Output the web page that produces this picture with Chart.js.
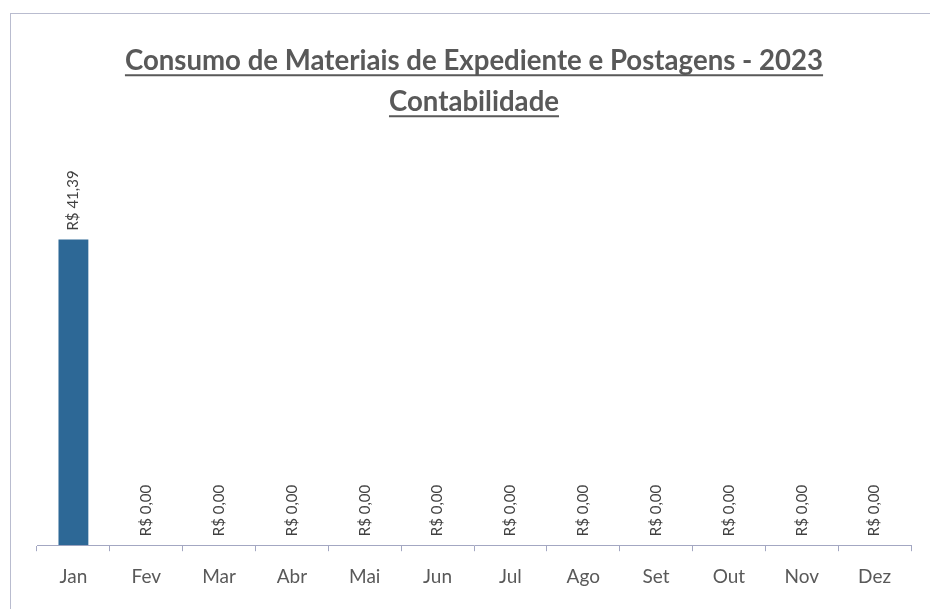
<!DOCTYPE html>
<html>
<head>
<meta charset="utf-8">
<script src="https://cdn.jsdelivr.net/npm/chart.js@4.4.0/dist/chart.umd.min.js"></script>
<style>
  html, body { margin: 0; padding: 0; background: #ffffff; overflow: hidden; width: 930px; height: 609px; }
  #frame { position: absolute; left: 10px; top: 13px; width: 925px; height: 610px; border: 1px solid #b9bccf; }
  canvas { display: block; }
</style>
</head>
<body>
<div id="frame"><canvas id="chart" width="923" height="610"></canvas></div>
<script>
const months = ['Jan', 'Fev', 'Mar', 'Abr', 'Mai', 'Jun', 'Jul', 'Ago', 'Set', 'Out', 'Nov', 'Dez'];
const consumo = [41.39, 0, 0, 0, 0, 0, 0, 0, 0, 0, 0, 0];
const titleLines = ['Consumo de Materiais de Expediente e Postagens - 2023', 'Contabilidade'];

const textGray = '#595959';
const fontFamily = 'Lato, "Open Sans", sans-serif';

function formatBRL(v) {
  return 'R$ ' + v.toFixed(2).replace('.', ',');
}

// rotated value labels above each bar
const barLabels = {
  id: 'barLabels',
  afterDatasetsDraw(chart) {
    const ctx = chart.ctx;
    const meta = chart.getDatasetMeta(0);
    ctx.save();
    ctx.font = '15px ' + fontFamily;
    ctx.fillStyle = '#404040';
    ctx.textAlign = 'left';
    ctx.textBaseline = 'middle';
    meta.data.forEach((bar, i) => {
      ctx.save();
      ctx.translate(bar.x, bar.y - 9);
      ctx.rotate(-Math.PI / 2);
      ctx.fillText(formatBRL(consumo[i]), 0, 0);
      ctx.restore();
    });
    ctx.restore();
  }
};

// underline the title lines
const titleUnderline = {
  id: 'titleUnderline',
  afterDraw(chart) {
    const tb = chart.titleBlock;
    const opts = chart.options.plugins.title;
    const ctx = chart.ctx;
    const size = opts.font.size;
    const lh = size * opts.font.lineHeight;
    ctx.save();
    ctx.font = 'bold ' + size + 'px ' + fontFamily;
    ctx.strokeStyle = textGray;
    ctx.lineWidth = 2;
    const cx = tb.left + tb.width / 2;
    titleLines.forEach((line, i) => {
      const w = ctx.measureText(line).width;
      const y = tb.top + opts.padding.top + lh / 2 + i * lh + size * 0.5;
      ctx.beginPath();
      ctx.moveTo(cx - w / 2, y);
      ctx.lineTo(cx + w / 2, y);
      ctx.stroke();
    });
    ctx.restore();
  }
};

new Chart(document.getElementById('chart'), {
  type: 'bar',
  data: {
    labels: months,
    datasets: [{
      data: consumo,
      backgroundColor: '#2d6896',
      borderWidth: 0,
      categoryPercentage: 1,
      barPercentage: 0.41
    }]
  },
  options: {
    responsive: false,
    animation: false,
    devicePixelRatio: 1,
    layout: { padding: { left: 26, right: 23, top: 0, bottom: 22 } },
    plugins: {
      legend: { display: false },
      tooltip: { enabled: false },
      title: {
        display: true,
        text: titleLines,
        color: textGray,
        font: { family: fontFamily, size: 27.6, weight: 'bold', lineHeight: 1.485 },
        padding: { top: 27, bottom: 53 }
      }
    },
    scales: {
      x: {
        border: { display: true, color: '#a3a7c2', width: 1 },
        grid: { display: true, drawOnChartArea: false, drawTicks: true, tickLength: 6, color: '#a3a7c2', offset: true },
        ticks: { color: textGray, padding: 14, font: { family: fontFamily, size: 19 } }
      },
      y: {
        display: false,
        min: 0,
        max: 50
      }
    }
  },
  plugins: [barLabels, titleUnderline]
});
</script>
</body>
</html>
